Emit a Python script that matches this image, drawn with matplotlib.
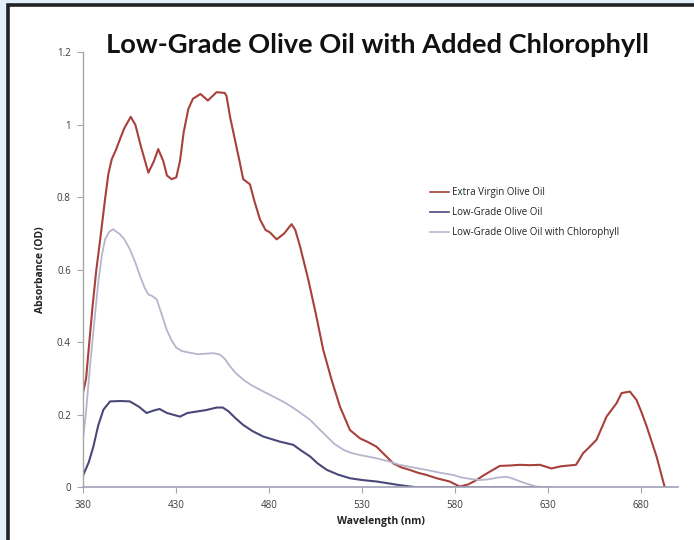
import matplotlib
matplotlib.use("Agg")
import matplotlib.pyplot as plt
from matplotlib.patches import Rectangle
import numpy as np

# ---- data ----
ev_nm = [380, 381.5, 382.7, 385, 387, 389, 391.7, 393.5, 395.3, 397.5, 399.7, 402, 405.5, 408, 411, 415, 418, 420.3,
         423, 425, 427.5, 430, 432, 434, 436.5, 439, 443, 447, 451.7, 456, 457, 459, 461.5, 464, 466, 469.6,
         472, 475, 478, 480.4, 484, 488, 492, 494, 496.5, 501, 505, 509, 513.5, 518, 523.4, 528.8, 533,
         537.7, 542, 546.7, 551, 555.6, 560, 564.6, 570, 577, 582.5, 587, 591.5, 595, 598.6, 604, 609,
         614.8, 620, 625.5, 631.8, 637, 641, 645, 648.8, 652, 656, 661.4, 666.8, 669.5, 674, 677.5, 680,
         683, 688.3, 692.7]
ev_od = [0.264, 0.30, 0.37, 0.50, 0.60, 0.68, 0.795, 0.865, 0.905, 0.93, 0.96, 0.99, 1.022, 1.00, 0.94, 0.868, 0.90,
         0.933, 0.90, 0.86, 0.85, 0.855, 0.90, 0.98, 1.044, 1.072, 1.085, 1.067, 1.09, 1.088, 1.08, 1.02,
         0.96, 0.90, 0.85, 0.836, 0.79, 0.739, 0.71, 0.703, 0.684, 0.70, 0.726, 0.71, 0.666, 0.573, 0.48,
         0.38, 0.297, 0.223, 0.158, 0.135, 0.125, 0.112, 0.09, 0.066, 0.055, 0.048, 0.040, 0.034, 0.025,
         0.016, 0.002, 0.008, 0.02, 0.032, 0.043, 0.059, 0.060, 0.062, 0.061, 0.062, 0.052, 0.058, 0.060,
         0.062, 0.094, 0.11, 0.131, 0.195, 0.232, 0.26, 0.264, 0.241, 0.21, 0.168, 0.085, 0.0]

lg_nm = [380, 383, 385.4, 388, 390.8, 394.4, 400, 405, 410, 414, 418, 421, 425, 432, 436, 441, 446, 451.7,
         455, 458, 462, 466, 471, 476.8, 485.7, 489, 493, 497, 502, 506, 511, 517, 523.4, 530, 537.7, 544,
         550, 556, 560, 600, 630]
lg_od = [0.034, 0.07, 0.112, 0.17, 0.214, 0.237, 0.238, 0.237, 0.222, 0.205, 0.212, 0.216, 0.205, 0.195,
         0.205, 0.209, 0.213, 0.22, 0.22, 0.21, 0.19, 0.172, 0.155, 0.14, 0.126, 0.122, 0.117, 0.102, 0.085,
         0.066, 0.048, 0.035, 0.025, 0.020, 0.016, 0.011, 0.006, 0.002, 0.0, 0.0, 0.0]

ch_nm = [380, 381.5, 383.6, 386, 388, 390, 391.7, 394, 396, 399.7, 402, 405, 408, 410.5, 413, 415, 417,
         419.5, 422, 424.8, 427.5, 430, 433, 437.4, 442, 446.3, 450, 453.5, 456, 458.9, 462, 466, 470, 475,
         480, 485.7, 489, 495, 502, 506, 511, 515, 520, 524, 528.8, 533, 537.7, 544, 550, 557, 564.6, 572,
         579, 582.5, 587, 593, 598, 603, 607.6, 611, 615, 619, 623.8, 631]
ch_od = [0.14, 0.21, 0.334, 0.46, 0.564, 0.64, 0.684, 0.705, 0.712, 0.698, 0.685, 0.657, 0.62, 0.583, 0.55,
         0.532, 0.528, 0.518, 0.48, 0.435, 0.405, 0.385, 0.376, 0.371, 0.367, 0.369, 0.370, 0.366, 0.355,
         0.334, 0.315, 0.297, 0.283, 0.269, 0.256, 0.241, 0.232, 0.212, 0.186, 0.165, 0.14, 0.12, 0.103,
         0.095, 0.089, 0.085, 0.08, 0.072, 0.062, 0.055, 0.048, 0.04, 0.034, 0.028, 0.024, 0.02, 0.022,
         0.027, 0.029, 0.024, 0.016, 0.009, 0.002, 0.0]

series_labels = ["Extra Virgin Olive Oil", "Low-Grade Olive Oil", "Low-Grade Olive Oil with Chlorophyll"]
x_ticks = [380, 430, 480, 530, 580, 630, 680]
y_ticks = [0, 0.2, 0.4, 0.6, 0.8, 1.0, 1.2]
y_tick_labels = ["0", "0.2", "0.4", "0.6", "0.8", "1", "1.2"]

title = "Low-Grade Olive Oil with Added Chlorophyll"
xlabel = "Wavelength (nm)"
ylabel = "Absorbance (OD)"

W, H = 694, 540
fig = plt.figure(figsize=(W / 100, H / 100), dpi=100)
fig.patch.set_facecolor("#e3f0fa")

# background axes holding the white panel with dark frame (left and top edges visible)
bg = fig.add_axes([0, 0, 1, 1], zorder=-10)
bg.set_xlim(0, W)
bg.set_ylim(H, 0)
bg.axis("off")
bg.add_patch(Rectangle((8, 5), W + 20, H + 20, facecolor="white", edgecolor="#222222", lw=2.6))

ax = fig.add_axes([83.3 / W, 1 - 487.3 / H, 595 / W, (487.3 - 52.3) / H])
ax.patch.set_alpha(0)

colors = ["#a8403c", "#4a4878", "#b6b5cc"]
ax.plot(ev_nm, ev_od, color=colors[0], lw=1.5, label=series_labels[0])
ax.plot(lg_nm, lg_od, color=colors[1], lw=1.5, label=series_labels[1])
ax.plot(ch_nm, ch_od, color=colors[2], lw=1.3, label=series_labels[2])

ax.set_xlim(380, 700)
ax.set_ylim(0, 1.2)
ax.set_xticks(x_ticks)
ax.set_yticks(y_ticks)
ax.set_yticklabels(y_tick_labels)

for s in ["top", "right"]:
    ax.spines[s].set_visible(False)
ax.spines["left"].set_color("#a8a8a8")
ax.spines["bottom"].set_color("#a0a0b8")
ax.spines["left"].set_linewidth(1.0)
ax.spines["bottom"].set_linewidth(1.2)
ax.tick_params(axis="both", direction="out", length=4, width=0.8, colors="#a8a8a8",
               labelcolor="#3a3a3a", labelsize=7, pad=5)

fnt = "Open Sans"
for lab in ax.get_xticklabels() + ax.get_yticklabels():
    lab.set_family(fnt)

ax.set_xlabel(xlabel, fontsize=7.5, fontweight="bold", family=fnt, color="#222222", labelpad=4)
ax.set_ylabel(ylabel, fontsize=7.5, fontweight="bold", family=fnt, color="#222222", labelpad=8)

fig.text(377 / W, 1 - 45 / H, title, ha="center", va="center", fontsize=19.6,
         fontweight="bold", family="Lato", color="#111111")

leg = ax.legend(loc="upper left", bbox_to_anchor=(430 / W, 1 - 187 / H), bbox_transform=fig.transFigure,
                frameon=False, fontsize=7, handlelength=2.0, handletextpad=0.3, labelspacing=0.95,
                borderaxespad=0, borderpad=0)
for t in leg.get_texts():
    t.set_family(fnt)
    t.set_color("#222222")
for l in leg.get_lines():
    l.set_linewidth(1.2)

fig.savefig("out.png", dpi=100, facecolor=fig.get_facecolor())
